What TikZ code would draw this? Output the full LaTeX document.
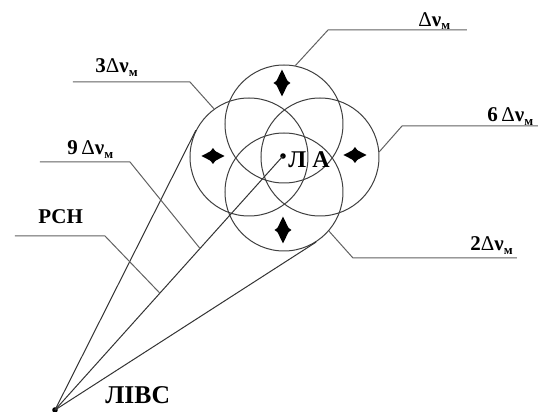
\documentclass[tikz,border=0pt]{standalone}
\usepackage{fontspec}
\setmainfont{Liberation Serif}
\usetikzlibrary{calc}
\definecolor{ringcol}{gray}{0.25}
\definecolor{leadcol}{gray}{0.38}
\newcommand{\dnu}{{\mdseries Δ}ν\raisebox{-0.35ex}{\fontsize{6.5}{7}\selectfont м}}
\tikzset{
  ring/.style={draw=ringcol,circle,minimum size=59pt,inner sep=0pt,line width=0.5pt},
  dotv/.style={circle,fill=black,inner sep=0pt,minimum size=2.8pt},
  lead/.style={draw=leadcol,line width=0.5pt},
  ray/.style={draw=black!80,line width=0.5pt},
  lab/.style={font=\bfseries\fontsize{10.5}{12}\selectfont,inner sep=0pt,anchor=base west},
  vdiam/.pic={
    \fill (0,-13.5) -- (6.5,0) -- (0,13.5) -- (-6.5,0) -- cycle;
    \fill (0,-6) -- (8.5,0) -- (0,6) -- (-8.5,0) -- cycle;},
  hdiam/.pic={
    \fill (-11.5,0) -- (0,6) -- (11.5,0) -- (0,-6) -- cycle;
    \fill (-6,0) -- (0,8) -- (6,0) -- (0,-8) -- cycle;},
}
\begin{document}
\begin{tikzpicture}[x=0.5pt,y=-0.5pt]
  \useasboundingbox (0,0) rectangle (538,412);
  % the four zones
  \node[ring] (top) at (284,124) {};
  \node[ring] (left) at (249,157) {};
  \node[ring] (right) at (320,157) {};
  \node[ring] (bot) at (284,192) {};
  \pic at (282,83) {vdiam};
  \pic at (283,230) {vdiam};
  \pic at (213,156) {hdiam};
  \pic at (355,155) {hdiam};
  \node[dotv] (LA) at (283,156) {};
  \node[dotv] (LIVS) at (55,410) {};
  \node[lab,font=\bfseries\fontsize{12}{14}\selectfont] at (288,168) {Л А};
  \node[lab,font=\bfseries\fontsize{12.8}{14}\selectfont] at (105,404) {ЛІВС};
  % rays
  \draw[ray] (LIVS.center) -- (tangent cs:node=left,point={(LIVS)},solution=2);
  \draw[ray] (LIVS.center) -- (LA.center);
  \draw[ray] (LIVS.center) -- (tangent cs:node=bot,point={(LIVS)},solution=1);
  % leaders
  \coordinate (k1) at (328,30);
  \coordinate (e1) at (467,30);
  \draw[lead] (top.79) -- (k1) -- (e1);
  \node[lab] at (418,26) {\dnu};
  \coordinate (k2) at (402,126);
  \coordinate (e2) at (538,126);
  \draw[lead] (right.5) -- (k2) -- (e2);
  \node[lab] at (487,122) {6\,\dnu};
  \coordinate (k3) at (190,82);
  \coordinate (e3) at (73,82);
  \draw[lead] (left.126) -- (k3) -- (e3);
  \node[lab] at (95,73) {3\dnu};
  \coordinate (k4) at (130,162);
  \coordinate (e4) at (40,162);
  \draw[lead] ($(LIVS)!0.636!(LA)$) -- (k4) -- (e4);
  \node[lab] at (67,155) {9\,\dnu};
  \coordinate (k5) at (105,236);
  \coordinate (e5) at (15,236);
  \draw[lead] ($(LIVS)!0.46!(LA)$) -- (k5) -- (e5);
  \node[lab] at (38,224) {РСН};
  \coordinate (k6) at (353,258);
  \coordinate (e6) at (517,258);
  \draw[lead] (bot.-41) -- (k6) -- (e6);
  \node[lab] at (470,251) {2\dnu};
\end{tikzpicture}
\end{document}
